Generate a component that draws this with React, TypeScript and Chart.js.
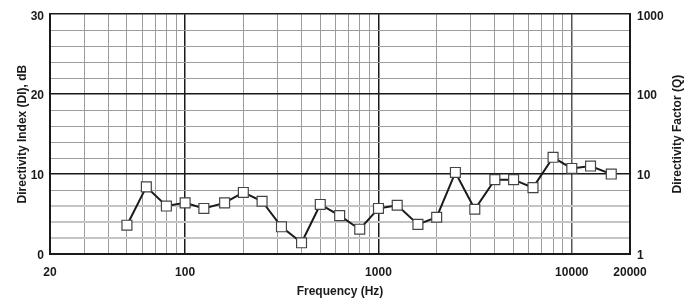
import React, { useEffect, useRef } from "react";
import { Chart, registerables } from "chart.js";

Chart.register(...registerables);

const frequencies = [50, 63, 80, 100, 125, 160, 200, 250, 315, 400, 500, 630, 800, 1000, 1250, 1600, 2000, 2500, 3150, 4000, 5000, 6300, 8000, 10000, 12500, 16000];
const directivityIndex = [3.6, 8.4, 6.0, 6.4, 5.7, 6.4, 7.7, 6.6, 3.4, 1.4, 6.2, 4.8, 3.1, 5.7, 6.1, 3.7, 4.6, 10.2, 5.6, 9.3, 9.3, 8.3, 12.1, 10.7, 11.0, 10.0];
const xGridValues = [20, 30, 40, 50, 60, 70, 80, 90, 100, 200, 300, 400, 500, 600, 700, 800, 900, 1000, 2000, 3000, 4000, 5000, 6000, 7000, 8000, 9000, 10000, 20000];
const xTickLabels = [20, 100, 1000, 10000, 20000];
const xMajorLines = [20, 100, 1000, 20000];
const xMidLines = [10000];
const yLeftLabels = [0, 10, 20, 30];
const yLightLines = [2, 4, 6];
const yRightTicks = [1, 10, 100, 1000];

const FONT = { family: "'Liberation Sans', Arial, sans-serif", size: 12, weight: "bold" as const };
const TEXT = "#1a1a1a";
const GRID_GRAY = "#9c9c9c";
const GRID_LIGHT = "#c4c4c4";
const GRID_MID = "#555555";
const GRID_DARK = "#1a1a1a";

const rightTitlePlugin = {
  id: "rightTitle",
  afterDraw(chart: any) {
    const { ctx, chartArea } = chart;
    ctx.save();
    ctx.translate(678, (chartArea.top + chartArea.bottom) / 2);
    ctx.rotate(-Math.PI / 2);
    ctx.font = "bold 12px 'Liberation Sans', Arial, sans-serif";
    ctx.fillStyle = TEXT;
    ctx.textAlign = "center";
    ctx.textBaseline = "middle";
    ctx.fillText("Directivity Factor (Q)", 0, 0);
    ctx.restore();
  },
};

export default function App() {
  const canvasRef = useRef<HTMLCanvasElement | null>(null);

  useEffect(() => {
    document.body.style.margin = "0";
    const canvas = canvasRef.current;
    if (!canvas) return;
    const chart = new Chart(canvas, {
      type: "line",
      data: {
        datasets: [
          {
            data: frequencies.map((f, i) => ({ x: f, y: directivityIndex[i] })),
            borderColor: "#1a1a1a",
            borderWidth: 2,
            tension: 0,
            pointStyle: "rect",
            pointRadius: 7,
            pointBackgroundColor: "#ffffff",
            pointBorderColor: "#444444",
            pointBorderWidth: 1.2,
            yAxisID: "y",
          },
        ],
      },
      options: {
        responsive: false,
        animation: false,
        events: [],
        layout: { padding: { top: 13, right: 0, bottom: 0, left: 0 } },
        plugins: { legend: { display: false }, tooltip: { enabled: false } },
        scales: {
          x: {
            type: "logarithmic",
            min: 20,
            max: 20000,
            afterBuildTicks: (scale: any) => {
              scale.ticks = xGridValues.map((v) => ({ value: v }));
            },
            afterFit: (scale: any) => {
              scale.height = 45;
            },
            ticks: {
              autoSkip: false,
              maxRotation: 0,
              padding: 11,
              color: TEXT,
              font: FONT,
              callback: (value: any) => (xTickLabels.includes(Number(value)) ? String(value) : ""),
            },
            grid: {
              drawTicks: false,
              color: (ctx: any) => {
                const v = ctx.tick?.value;
                if (xMajorLines.includes(v)) return GRID_DARK;
                if (xMidLines.includes(v)) return GRID_MID;
                return GRID_GRAY;
              },
              lineWidth: (ctx: any) => {
                const v = ctx.tick?.value;
                return xMajorLines.includes(v) || xMidLines.includes(v) ? 1.5 : 1;
              },
            },
            border: { display: true, color: GRID_DARK, width: 2 },
            title: {
              display: true,
              text: "Frequency (Hz)",
              color: TEXT,
              font: FONT,
              padding: { top: 7, bottom: 0 },
            },
          },
          y: {
            type: "linear",
            position: "left",
            min: 0,
            max: 30,
            afterFit: (scale: any) => {
              scale.width = 50;
            },
            ticks: {
              stepSize: 2,
              autoSkip: false,
              padding: 6,
              labelOffset: 2,
              color: TEXT,
              font: FONT,
              callback: (value: any) => (yLeftLabels.includes(Number(value)) ? String(value) : ""),
            },
            grid: {
              drawTicks: false,
              color: (ctx: any) => {
                const v = ctx.tick?.value;
                if (v % 10 === 0) return GRID_DARK;
                if (yLightLines.includes(v)) return GRID_LIGHT;
                return GRID_GRAY;
              },
              lineWidth: (ctx: any) => {
                const v = ctx.tick?.value;
                if (v % 10 === 0) return 1.5;
                if (yLightLines.includes(v)) return 2;
                return 1;
              },
            },
            border: { display: true, color: GRID_DARK, width: 2 },
            title: {
              display: true,
              text: "Directivity Index (DI), dB",
              color: TEXT,
              font: FONT,
              padding: { top: 15, bottom: 0 },
            },
          },
          y2: {
            type: "logarithmic",
            position: "right",
            min: 1,
            max: 1000,
            afterBuildTicks: (scale: any) => {
              scale.ticks = yRightTicks.map((v) => ({ value: v }));
            },
            afterFit: (scale: any) => {
              scale.width = 63;
            },
            ticks: {
              autoSkip: false,
              padding: 7,
              labelOffset: 2,
              color: TEXT,
              font: FONT,
              callback: (value: any) => String(value),
            },
            grid: { drawOnChartArea: false, drawTicks: false },
            border: { display: true, color: GRID_DARK, width: 2 },
          },
        },
      },
      plugins: [rightTitlePlugin],
    } as any);
    return () => chart.destroy();
  }, []);

  return <canvas ref={canvasRef} width={693} height={299} style={{ display: "block" }} />;
}
